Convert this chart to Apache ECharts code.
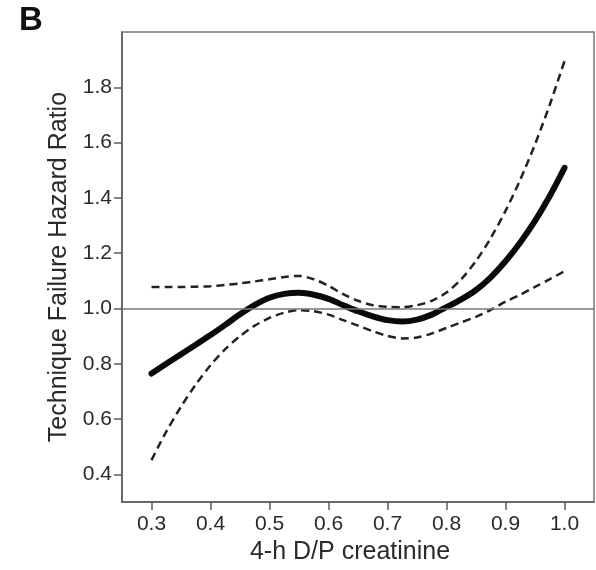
<!DOCTYPE html>
<html>
<head>
<meta charset="utf-8">
<script src="https://cdn.jsdelivr.net/npm/echarts@6/dist/echarts.min.js"></script>
<style>
html,body{margin:0;padding:0;background:#fff;}
#chart{width:596px;height:570px;}
</style>
</head>
<body>
<div id="chart"></div>
<script>
// D/P creatinine values
const dpCreatinine = [0.300,0.325,0.350,0.375,0.400,0.425,0.450,0.475,0.500,0.525,0.550,0.575,0.600,0.625,0.650,0.675,0.700,0.725,0.750,0.775,0.800,0.825,0.850,0.875,0.900,0.925,0.950,0.975,1.000];
// Estimated hazard ratio (solid curve)
const hazardRatio  = [0.765,0.800,0.835,0.869,0.904,0.941,0.979,1.013,1.039,1.053,1.057,1.050,1.035,1.012,0.990,0.972,0.958,0.953,0.960,0.978,1.005,1.033,1.067,1.113,1.171,1.239,1.317,1.407,1.509];
// Upper 95% CI (dashed)
const upperCI      = [1.078,1.078,1.078,1.079,1.081,1.085,1.091,1.098,1.106,1.114,1.118,1.106,1.082,1.052,1.028,1.012,1.006,1.005,1.012,1.028,1.058,1.106,1.172,1.255,1.353,1.466,1.594,1.737,1.895];
// Lower 95% CI (dashed)
const lowerCI      = [0.452,0.555,0.645,0.725,0.795,0.853,0.900,0.938,0.966,0.985,0.994,0.990,0.978,0.958,0.938,0.918,0.901,0.892,0.895,0.910,0.930,0.950,0.970,0.995,1.025,1.050,1.078,1.106,1.135];
// Tick labels
const xTicks = [0.3,0.4,0.5,0.6,0.7,0.8,0.9,1.0];
const yTicks = [0.4,0.6,0.8,1.0,1.2,1.4,1.6,1.8];
const referenceHR = 1.0;

const pairs = ys => dpCreatinine.map((x,i)=>[x, ys[i]]);
const FONT = '"Liberation Sans", Arial, sans-serif';
const AXC = '#5a5a5a';
const TXT = '#2a2a2a';

const chart = echarts.init(document.getElementById('chart'), null, {renderer:'canvas'});
chart.setOption({
  animation:false,
  backgroundColor:'#fff',
  graphic:[{type:'text', left:19, top:4, style:{text:'B', font:'bold 33px ' + FONT, fill:'#111'}}],
  grid:{left:122, top:32, right:2, bottom:67, show:true, borderColor:'#777', borderWidth:1.5, backgroundColor:'transparent'},
  xAxis:{
    type:'value', min:0.25, max:1.05,
    name:'4-h D/P creatinine', nameLocation:'middle', nameGap:36,
    nameTextStyle:{fontFamily:FONT, fontSize:25, color:TXT, padding:[0,16,0,0]},
    axisLine:{show:true, lineStyle:{color:AXC, width:1.5}},
    axisTick:{show:true, length:8, lineStyle:{color:AXC, width:1.5}, customValues:xTicks},
    axisLabel:{fontFamily:FONT, fontSize:21, color:TXT, margin:12, customValues:xTicks, formatter:v=>v.toFixed(1)},
    splitLine:{show:false}
  },
  yAxis:{
    type:'value', min:0.3, max:2.0,
    name:'Technique Failure Hazard Ratio', nameLocation:'middle', nameGap:47, nameRotate:90,
    nameTextStyle:{fontFamily:FONT, fontSize:25, color:TXT},
    axisLine:{show:true, lineStyle:{color:AXC, width:1.5}},
    axisTick:{show:true, length:8, lineStyle:{color:AXC, width:1.5}, customValues:yTicks},
    axisLabel:{fontFamily:FONT, fontSize:21, color:TXT, margin:10, customValues:yTicks, formatter:v=>v.toFixed(1)},
    splitLine:{show:false}
  },
  series:[
    {type:'line', data:pairs(upperCI), smooth:0.3, symbol:'none', lineStyle:{color:'#222', width:2.5, type:[8,5]}, z:3},
    {type:'line', data:pairs(lowerCI), smooth:0.3, symbol:'none', lineStyle:{color:'#222', width:2.5, type:[8,5]}, z:3},
    {type:'line', data:pairs(hazardRatio), smooth:0.3, symbol:'none', lineStyle:{color:'#0a0a0a', width:6, cap:'round'}, z:4,
     markLine:{silent:true, symbol:'none', label:{show:false}, lineStyle:{color:'#777', width:1.5, type:'solid'}, data:[{yAxis:referenceHR}]}}
  ]
});
</script>
</body>
</html>
